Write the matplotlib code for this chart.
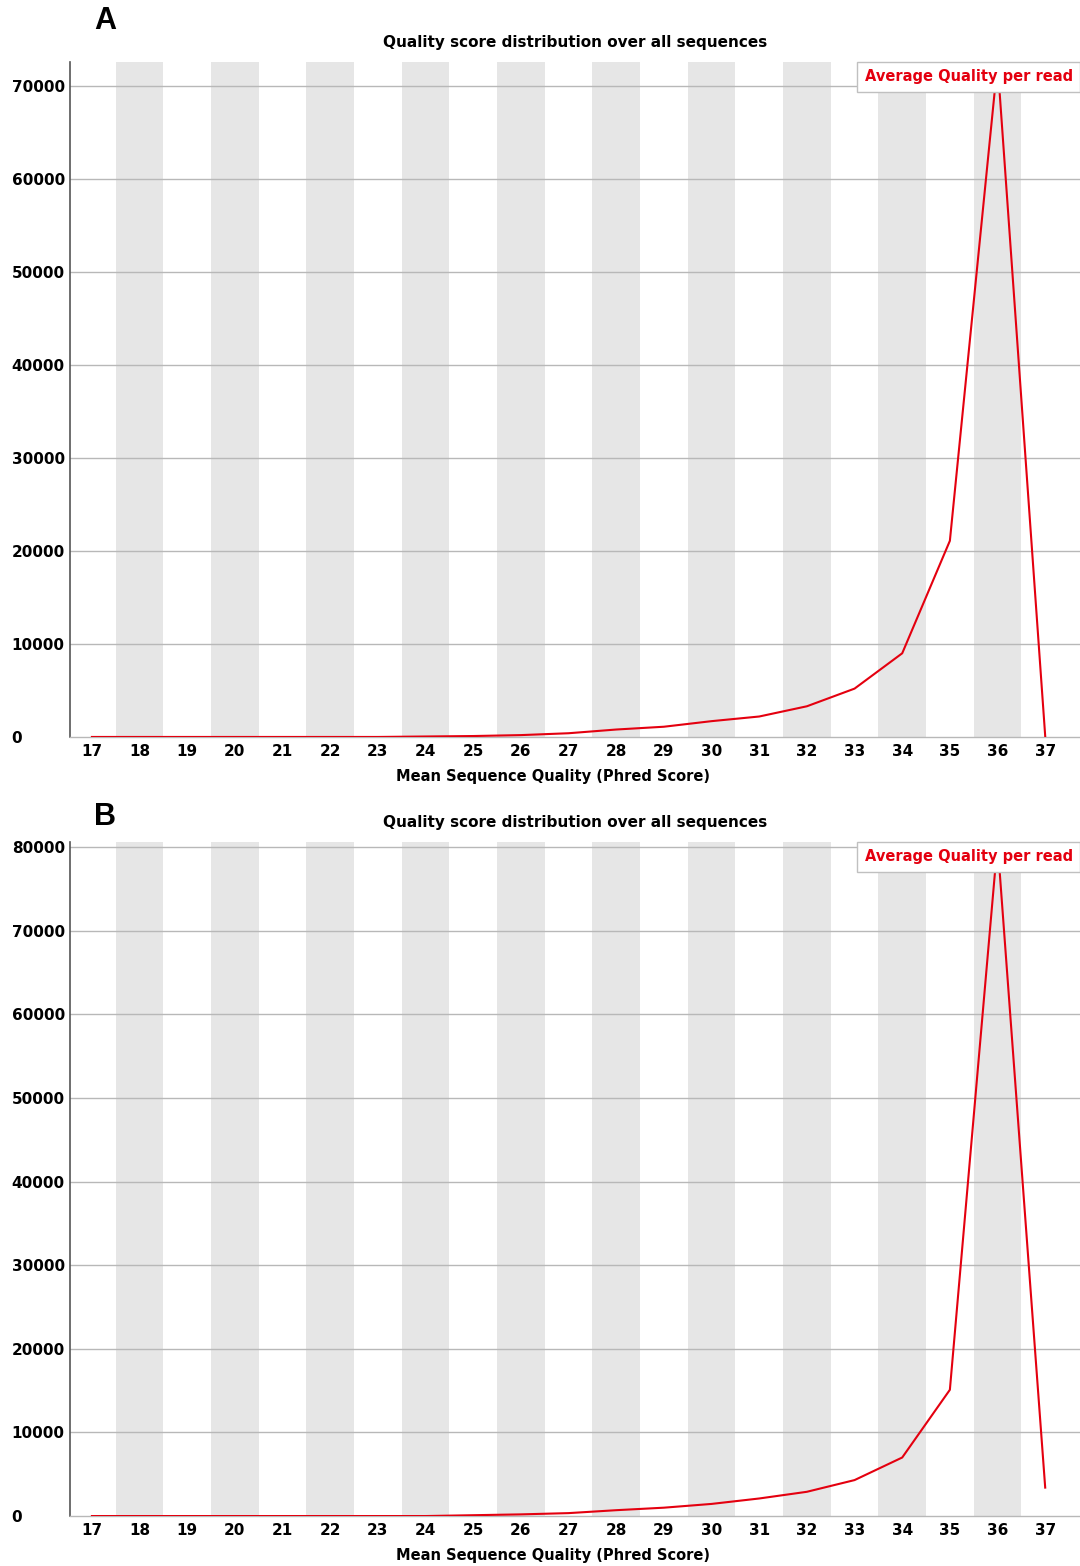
import matplotlib
matplotlib.use('Agg')
import matplotlib.pyplot as plt

# mean quality scores (x axis)
scores = list(range(17, 38))

# read counts per mean quality, panel A and panel B
counts_a = [0, 0, 0, 0, 0, 0, 0, 50, 100, 200, 400, 800, 1100, 1700, 2200,
            3300, 5200, 9000, 21100, 72500, 100]
counts_b = [0, 0, 0, 0, 0, 0, 0, 0, 100, 200, 350, 700, 1000, 1450, 2100,
            2900, 4300, 7000, 15100, 80500, 3400]

yticks_a = list(range(0, 70001, 10000))
yticks_b = list(range(0, 80001, 10000))
ylim_a = (0, 72600)
ylim_b = (0, 80600)

title = 'Quality score distribution over all sequences'
xlabel = 'Mean Sequence Quality (Phred Score)'
legend_label = 'Average Quality per read'

RED = '#e4000f'
STRIPE = '#e6e6e6'
GRIDC = '#b8b8b8'


def draw_panel(ax, counts, yticks, ylim):
    # alternating grey columns, fastqc style
    for s in scores[1::2]:
        ax.axvspan(s - 0.5, s + 0.5, color=STRIPE, lw=0, zorder=0)
    for y in yticks[1:]:
        ax.axhline(y, color=GRIDC, lw=1.0, zorder=1)
    ax.plot(scores, counts, color=RED, lw=1.5, zorder=3, label=legend_label)
    ax.set_xlim(16.54, 37.73)
    ax.set_ylim(*ylim)
    ax.set_xticks(scores)
    ax.set_xticklabels([str(s) for s in scores], fontsize=11, fontweight='bold')
    ax.set_yticks(yticks)
    ax.set_yticklabels([str(y) for y in yticks], fontsize=11, fontweight='bold')
    for lab in ax.get_yticklabels():
        lab.set_horizontalalignment('left')
    ax.tick_params(axis='y', length=0, pad=42)
    ax.tick_params(axis='x', length=0, pad=5)
    for side in ['top', 'right']:
        ax.spines[side].set_visible(False)
    ax.spines['left'].set_color('#555555')
    ax.spines['left'].set_linewidth(1.2)
    ax.spines['bottom'].set_color(GRIDC)
    ax.spines['bottom'].set_linewidth(1.0)
    ax.set_title(title, fontsize=11, fontweight='bold', pad=11)
    ax.set_xlabel(xlabel, fontsize=10.5, fontweight='bold')
    ax.xaxis.set_label_coords(0.478, -0.047)
    leg = ax.legend(loc='upper right', handlelength=0, handletextpad=0,
                    borderaxespad=0, fancybox=False, framealpha=1,
                    borderpad=0.5, prop={'weight': 'bold', 'size': 10.5})
    leg.get_frame().set_edgecolor('#c0c0c0')
    leg.get_frame().set_linewidth(1.0)
    for t in leg.get_texts():
        t.set_color(RED)
    for h in leg.legend_handles:
        h.set_visible(False)


fig = plt.figure(figsize=(10.8, 15.66), dpi=100)
ax_a = fig.add_axes([0.0648, 0.5294, 0.9352, 0.4310])
ax_b = fig.add_axes([0.0648, 0.0319, 0.9352, 0.4304])

draw_panel(ax_a, counts_a, yticks_a, ylim_a)
draw_panel(ax_b, counts_b, yticks_b, ylim_b)

fig.text(105 / 1080, 1 - 21 / 1566, 'A', fontsize=22, fontweight='bold',
         family='Liberation Sans', ha='center', va='center')
fig.text(105 / 1080, 1 - 817 / 1566, 'B', fontsize=22, fontweight='bold',
         family='Liberation Sans', ha='center', va='center')

fig.savefig('out.png', dpi=100)
